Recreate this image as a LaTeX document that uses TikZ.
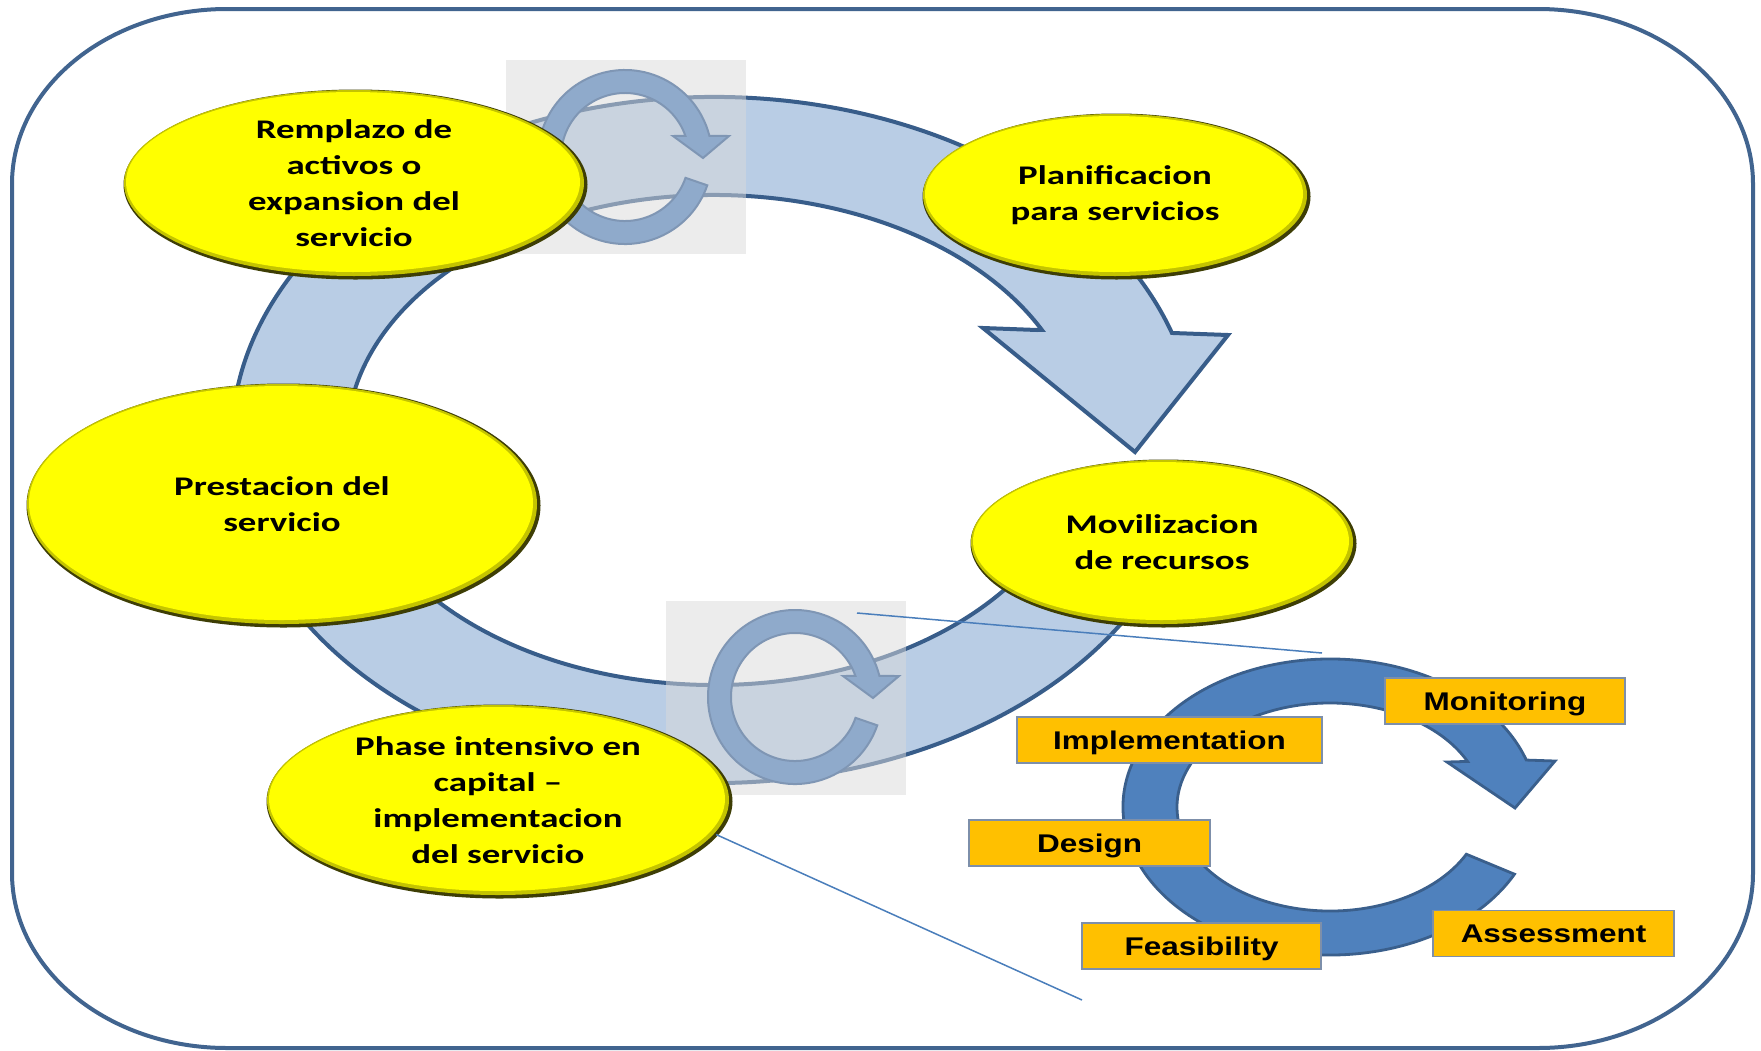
\documentclass[tikz,border=0pt]{standalone}
\usepackage{fontspec}
\usetikzlibrary{calc,shapes.geometric}
\newfontfamily\elfont{Carlito}[FakeStretch=1.37]
\newfontfamily\labfont{Liberation Sans}[FakeStretch=1.23]
\definecolor{frameblue}{HTML}{41648F}
\definecolor{bandfill}{HTML}{B9CDE5}
\definecolor{bandline}{HTML}{385D8A}
\definecolor{iconfill}{HTML}{8FAACB}
\definecolor{iconline}{HTML}{7F96B4}
\definecolor{sqgray}{HTML}{DADADA}
\definecolor{ringfill}{HTML}{4F81BD}
\definecolor{ringline}{HTML}{3A5F8C}
\definecolor{labfill}{HTML}{FFC000}
\definecolor{labline}{HTML}{7D8FAA}
\definecolor{connline}{HTML}{4A7EBB}
\definecolor{yrimc}{HTML}{3E3E05}
\definecolor{ymidc}{HTML}{C4C400}
\definecolor{ytopc}{HTML}{FFFF00}
\newcommand\yellnode[6]{%
  \fill[yrimc] (#2+1.5,#3+1.5) ellipse [x radius=#4, y radius=#5];
  \fill[ymidc] (#2,#3) ellipse [x radius=#4-2, y radius=#5-2];
  \fill[ytopc] (#2-1,#3-1) ellipse [x radius=#4-5, y radius=#5-5];
  \node[ytext, minimum width={#4*1pt}, minimum height={#5*1pt}] (#1) at (#2,#3) {#6};
}
\tikzset{
  cyc/.pic={\path[icon] (19:87) arc[start angle=19,end angle=346,radius=87]
     -- (104,-21) -- (78,1) -- (48,-21) -- (340.8:64)
     arc[start angle=340.8,end angle=19,radius=64] -- cycle;}
}
\begin{document}
\begin{tikzpicture}[x=0.5pt,y=-0.5pt,
  frame/.style={draw=frameblue,line width=2pt},
  band/.style={fill=bandfill,draw=bandline,line width=2pt,line join=miter},
  sq/.style={fill=sqgray,fill opacity=0.5},
  icon/.style={fill=iconfill,draw=iconline,line width=1pt},
  ring/.style={fill=ringfill,draw=ringline,line width=1.4pt},
  lab/.style={fill=labfill,draw=labline,line width=0.6pt,inner sep=0,
    minimum height=23pt,text height=9.2pt,text depth=0pt,
    font=\labfont\bfseries\fontsize{12.8pt}{15pt}\selectfont},
  conn/.style={draw=connline,line width=0.75pt},
  ytext/.style={ellipse,inner sep=0,align=center,text=black,
    font=\elfont\bfseries\fontsize{13.45pt}{18pt}\selectfont}
]
\fill[white] (0,0) rectangle (1761,1050);
\useasboundingbox (0,0) rectangle (1761,1050);
% frame
\draw[frame] (227,9) -- (1538,9) arc[start angle=270,end angle=360,x radius=215,y radius=175]
  -- (1753,873) arc[start angle=0,end angle=90,x radius=215,y radius=175]
  -- (227,1048) arc[start angle=90,end angle=180,x radius=215,y radius=175]
  -- (12,184) arc[start angle=180,end angle=270,x radius=215,y radius=175] -- cycle;
% big circular arrow
\coordinate (C) at (714,440);
\path[band] ($(C)+(25:482 and 343)$) arc[start angle=25,end angle=341.8,x radius=482,y radius=343]
  -- (1173,333) -- (1228,335) -- (1135,452) -- (983,328) -- (1037,330)
  -- ($(C)+(333.3:367 and 245)$) arc[start angle=333.3,end angle=25,x radius=367,y radius=245] -- cycle;
% icons
\path[sq] (506,60) rectangle (746,254);
\pic (ic1) at (625,157) {cyc};
\path[sq] (666,601) rectangle (906,795);
\pic (ic2) at (795,697) {cyc};
% small cycle
\coordinate (sr) at (1330,807);
\path[ring] ($(sr)+(27:207 and 148)$) arc[start angle=27,end angle=341.5,x radius=207,y radius=148]
  -- (1555,761) -- (1515,808) -- (1447,762)
  -- ($(sr)+(334:153 and 104)$) arc[start angle=334,end angle=27,x radius=153,y radius=104] -- cycle;
\node[lab,minimum width=120pt] (mon) at (1505,701) {Monitoring};
\node[lab,minimum width=152.5pt] (imp) at (1169.5,740) {Implementation};
\node[lab,minimum width=120.5pt] (des) at (1089.5,843) {Design};
\node[lab,minimum width=119.5pt] (fea) at (1201.5,946) {Feasibility};
\node[lab,minimum width=120.5pt] (ass) at (1553.5,933.5) {Assessment};
% yellow ellipses
\yellnode{rem}{354}{183}{232}{95}{Remplazo de\\activos o\\expansion del\\servicio}
\yellnode{pla}{1115}{195}{194}{83}{Planificacion\\para servicios}
\yellnode{pre}{282}{504}{257}{122}{Prestacion del\\servicio}
\yellnode{mov}{1162}{542}{193}{84}{Movilizacion\\de recursos}
\yellnode{pha}{498}{800}{233}{97}{Phase intensivo en\\capital –\\implementacion\\del servicio}
% callout lines
\coordinate (c1a) at (857,613);
\coordinate (c1b) at (1322,653);
\coordinate (c2b) at (1082,1000);
\draw[conn] (c1a) -- (c1b);
\draw[conn] (pha.-9.5) -- (c2b);
\end{tikzpicture}
\end{document}
